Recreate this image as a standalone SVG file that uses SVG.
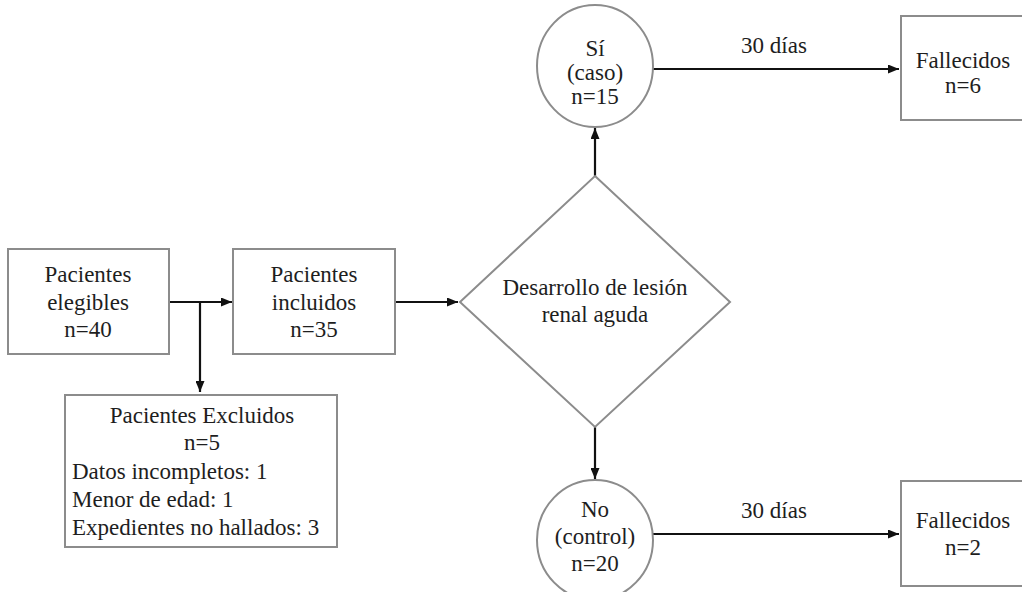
<svg xmlns="http://www.w3.org/2000/svg" width="1022" height="592" viewBox="0 0 1022 592">
<style>
.box{fill:#fff;stroke:#8c8c8c;stroke-width:2}
.t{font-family:"Liberation Serif","Times New Roman",serif;font-size:23px;fill:#1e1e1e}
.c{text-anchor:middle}
.ln{fill:none;stroke:#111;stroke-width:2.2}
</style>
<defs>
<marker id="ah" markerUnits="userSpaceOnUse" markerWidth="11" markerHeight="9" refX="11" refY="4.5" orient="auto">
<path d="M0,0 L11,4.5 L0,9 z" fill="#111"/>
</marker>
</defs>
<rect width="1022" height="592" fill="#fff"/>
<g id="connectors">
<line class="ln" x1="169" y1="302" x2="232" y2="302" marker-end="url(#ah)"/>
<line class="ln" x1="200" y1="302" x2="200" y2="392" marker-end="url(#ah)"/>
<line class="ln" x1="395" y1="302" x2="458" y2="302" marker-end="url(#ah)"/>
<line class="ln" x1="595" y1="176" x2="595" y2="128" marker-end="url(#ah)"/>
<line class="ln" x1="595" y1="427" x2="595" y2="479" marker-end="url(#ah)"/>
<line class="ln" x1="653" y1="69" x2="899" y2="69" marker-end="url(#ah)"/>
<line class="ln" x1="653" y1="534" x2="899" y2="534" marker-end="url(#ah)"/>
<text class="t c" x="774" y="53">30 días</text>
<text class="t c" x="774" y="518">30 días</text>
</g>
<g id="elegibles">
<rect class="box" x="8" y="249" width="161" height="105"/>
<text class="t c" x="88" y="282">Pacientes</text>
<text class="t c" x="88" y="310">elegibles</text>
<text class="t c" x="88" y="337">n=40</text>
</g>
<g id="incluidos">
<rect class="box" x="233" y="249" width="162" height="105"/>
<text class="t c" x="314" y="282">Pacientes</text>
<text class="t c" x="314" y="310">incluidos</text>
<text class="t c" x="314" y="337">n=35</text>
</g>
<g id="excluidos">
<rect class="box" x="65" y="395" width="272" height="152"/>
<text class="t c" x="202" y="423">Pacientes Excluidos</text>
<text class="t c" x="202" y="450">n=5</text>
<text class="t" x="72" y="479">Datos incompletos: 1</text>
<text class="t" x="72" y="507">Menor de edad: 1</text>
<text class="t" x="72" y="535">Expedientes no hallados: 3</text>
</g>
<g id="decision">
<polygon class="box" points="595,176 730,302 595,427 460,302"/>
<text class="t c" x="595" y="295">Desarrollo de lesión</text>
<text class="t c" x="595" y="322">renal aguda</text>
</g>
<g id="si">
<ellipse class="box" cx="595" cy="66" rx="58" ry="61"/>
<text class="t c" x="595" y="56">Sí</text>
<text class="t c" x="595" y="80">(caso)</text>
<text class="t c" x="595" y="104">n=15</text>
</g>
<g id="no">
<ellipse class="box" cx="595" cy="540" rx="58" ry="60"/>
<text class="t c" x="595" y="517">No</text>
<text class="t c" x="595" y="544">(control)</text>
<text class="t c" x="595" y="571">n=20</text>
</g>
<g id="fallecidos1">
<rect class="box" x="901" y="16" width="124" height="104"/>
<text class="t c" x="963" y="68">Fallecidos</text>
<text class="t c" x="963" y="93">n=6</text>
</g>
<g id="fallecidos2">
<rect class="box" x="901" y="481" width="124" height="105"/>
<text class="t c" x="963" y="528">Fallecidos</text>
<text class="t c" x="963" y="555">n=2</text>
</g>
</svg>
